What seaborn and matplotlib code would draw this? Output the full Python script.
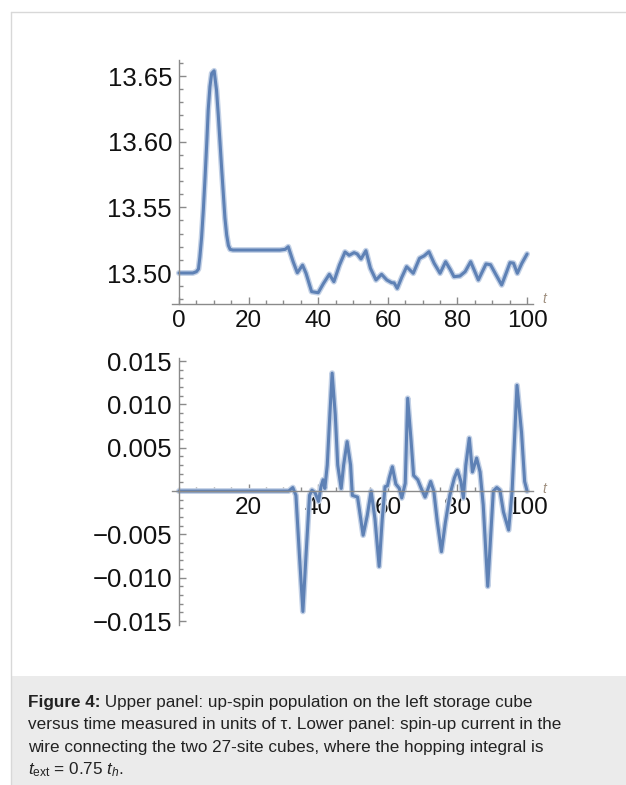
import numpy as np
import pandas as pd
import seaborn as sns
import matplotlib.pyplot as plt
import matplotlib.patheffects as pe
from matplotlib.ticker import MultipleLocator, FixedLocator
from matplotlib.patches import Rectangle
from matplotlib.lines import Line2D

# upper panel: up-spin population on the left cube
t_pop = [0, 2, 4, 5, 5.6, 6.0, 6.5, 7.0, 7.5, 8.0, 8.4, 8.9, 9.4, 10.1, 10.8, 11.3,
         11.8, 12.3, 12.8, 13.2, 13.7, 14.2, 14.7, 15.5, 20, 25, 29.0, 30.5, 31.4,
         32.8, 34.0, 35.5, 36.5, 38.1, 40.0, 41.5, 43.2, 44.5, 46.1, 47.7, 48.9, 50.3,
         51.2, 52.3, 53.7, 55.0, 56.6, 58.2, 59.7, 61.1, 61.8, 62.7, 64.0, 65.4, 67.3,
         69.1, 70.4, 71.8, 73.3, 75.0, 76.6, 77.9, 79.0, 80.7, 82.2, 83.8, 86.0, 88.2,
         89.5, 91.1, 92.7, 94.0, 95.1, 96.1, 97.2, 98.5, 100]
n_up = [13.500, 13.500, 13.500, 13.501, 13.503, 13.512, 13.527, 13.548, 13.573, 13.600,
        13.624, 13.642, 13.652, 13.654, 13.639, 13.620, 13.599, 13.578, 13.558, 13.542,
        13.529, 13.521, 13.518, 13.5175, 13.5175, 13.5175, 13.5175, 13.518, 13.520,
        13.5086, 13.5002, 13.506, 13.4998, 13.4858, 13.485, 13.492, 13.499, 13.4934,
        13.506, 13.516, 13.5135, 13.5155, 13.5145, 13.5107, 13.517, 13.5036, 13.4947,
        13.499, 13.4947, 13.4926, 13.4925, 13.4883, 13.4967, 13.5048, 13.4998, 13.5112,
        13.513, 13.5162, 13.5074, 13.4998, 13.5086, 13.5028, 13.4972, 13.4977, 13.501,
        13.5086, 13.4947, 13.5069, 13.5063, 13.4985, 13.4909, 13.500, 13.5079, 13.5075,
        13.4998, 13.5074, 13.5145]

# lower panel: spin-up current in the wire
t_cur = [0, 10, 20, 29.0, 31.5, 32.7, 33.6, 34.6, 35.6, 36.5, 37.5, 38.2, 39.1, 40.1,
         40.8, 41.4, 41.9, 42.6, 43.3, 44.0, 44.9, 45.6, 46.6, 47.3, 48.3, 49.3, 49.8,
         51.3, 52.9, 54.1, 55.2, 56.3, 57.5, 58.4, 59.2, 59.9, 60.4, 61.3, 62.3, 63.3,
         64.0, 65.0, 65.7, 66.7, 67.4, 68.6, 69.6, 70.7, 72.3, 73.2, 74.2, 75.4, 76.5,
         77.8, 79.1, 80.0, 81.0, 81.7, 82.4, 83.4, 84.3, 85.5, 86.5, 87.4, 88.7, 89.5,
         90.3, 91.3, 92.2, 93.2, 94.7, 95.7, 97.1, 98.4, 99.3, 100]
j_up = [0, 0, 0, 0, 0.0, 0.0004, -0.0005, -0.0074, -0.0139, -0.0074, -0.0005, 0.0001,
        -0.0002, -0.0012, 0.0005, 0.0013, 0.0003, 0.0030, 0.0085, 0.0136, 0.0088, 0.0030,
        0.0003, 0.0030, 0.0057, 0.0030, -0.0005, -0.0007, -0.0051, -0.0028, 0.0, -0.0032,
        -0.0087, -0.0032, 0.0005, 0.0006, 0.0015, 0.0028, 0.0008, 0.0003, -0.0008, 0.0009,
        0.0107, 0.0057, 0.0018, 0.0013, 0.0003, -0.0007, 0.0011, 0.0, -0.0035, -0.0070,
        -0.0037, -0.0005, 0.0015, 0.0024, 0.0011, -0.0008, 0.0030, 0.0061, 0.0022, 0.0038,
        0.0022, -0.0016, -0.0110, -0.0055, 0.0, 0.0004, 0.0001, -0.0024, -0.0045, 0.0,
        0.0122, 0.0068, 0.0011, 0.0]

pop = pd.DataFrame({"t": t_pop, "n": n_up})
cur = pd.DataFrame({"t": t_cur, "j": j_up})

sns.set_style("ticks")
plt.rcParams["font.family"] = ["Liberation Sans", "DejaVu Sans"]
plt.rcParams["mathtext.fontset"] = "custom"
plt.rcParams["mathtext.rm"] = "Liberation Sans"
plt.rcParams["mathtext.it"] = "Liberation Sans:italic"
plt.rcParams["axes.unicode_minus"] = True
plt.rcParams["lines.solid_joinstyle"] = "round"

line_c = "#5e81b5"
axis_c = "#8a8a8a"
halo = [pe.Stroke(linewidth=4.2, foreground="#c3d1e6"), pe.Normal()]

fig = plt.figure(figsize=(6.26, 7.85), dpi=100)
W, H = 626, 785

# frame and caption box
fig.add_artist(Line2D([11 / W, 11 / W], [0, 1 - 12 / H], color="#d8d8d8", lw=1))
fig.add_artist(Line2D([11 / W, 1], [1 - 12 / H, 1 - 12 / H], color="#d8d8d8", lw=1))
fig.add_artist(Rectangle((11 / W, 0), 1 - 11 / W, 109 / H, facecolor="#ebebeb",
                         edgecolor="none", transform=fig.transFigure))


def style_axes(ax):
    for side in ("top", "right"):
        ax.spines[side].set_visible(False)
    for side in ("left", "bottom"):
        ax.spines[side].set_color(axis_c)
        ax.spines[side].set_linewidth(1.0)
    ax.spines["left"].set_position(("data", 0))
    ax.set_xlim(-2, 101.7)
    ax.xaxis.set_minor_locator(MultipleLocator(5))
    ax.tick_params(which="both", direction="in", color=axis_c, width=1.0)
    ax.tick_params(which="major", length=5)
    ax.tick_params(which="minor", length=3)
    ax.set_xlabel("")
    ax.set_ylabel("")
    ax.patch.set_alpha(0)


# upper panel
ax1 = fig.add_axes([172 / W, 1 - 304 / H, 361 / W, 244 / H])
sns.lineplot(data=pop, x="t", y="n", ax=ax1, color=line_c, lw=2.2, path_effects=halo)
style_axes(ax1)
ax1.set_ylim(13.4764, 13.6622)
ax1.yaxis.set_major_locator(FixedLocator([13.50, 13.55, 13.60, 13.65]))
ax1.yaxis.set_minor_locator(MultipleLocator(0.01))
ax1.set_yticklabels(["13.50", "13.55", "13.60", "13.65"])
ax1.xaxis.set_major_locator(FixedLocator([0, 20, 40, 60, 80, 100]))
ax1.set_xticklabels(["0", "20", "40", "60", "80", "100"])
ax1.tick_params(axis="y", labelsize=18.5, pad=5, labelcolor="#111111")
ax1.tick_params(axis="x", labelsize=17.5, pad=4, labelcolor="#111111")
ax1.text(1.03, 0.02, "t", transform=ax1.transAxes, fontsize=10, style="italic",
         color="#a09080", ha="center", va="center")

# lower panel
ax2 = fig.add_axes([172 / W, 1 - 625 / H, 361 / W, 267 / H])
sns.lineplot(data=cur, x="t", y="j", ax=ax2, color=line_c, lw=2.2, path_effects=halo)
style_axes(ax2)
ax2.spines["bottom"].set_position(("data", 0))
ax2.set_ylim(-0.01546, 0.01535)
ax2.yaxis.set_major_locator(FixedLocator([-0.015, -0.010, -0.005, 0.005, 0.010, 0.015]))
ax2.yaxis.set_minor_locator(MultipleLocator(0.001))
ax2.set_yticklabels(["\u22120.015", "\u22120.010", "\u22120.005", "0.005", "0.010", "0.015"])
ax2.xaxis.set_major_locator(FixedLocator([20, 40, 60, 80, 100]))
ax2.set_xticklabels(["20", "40", "60", "80", "100"])
ax2.tick_params(axis="y", labelsize=18.5, pad=5, labelcolor="#111111")
ax2.tick_params(axis="x", labelsize=17.5, pad=4, labelcolor="#111111")
ax2.text(1.03, 0.51, "t", transform=ax2.transAxes, fontsize=10, style="italic",
         color="#a09080", ha="center", va="center")

# caption
cap_size = 12.3
x0 = 28 / W
bold = fig.text(x0, 1 - 702 / H, "Figure 4:", fontsize=cap_size, fontweight="bold",
                va="center", color="#222222")
fig.canvas.draw()
bb = bold.get_window_extent(fig.canvas.get_renderer())
fig.text(bb.x1 / fig.bbox.width, 1 - 702 / H,
         " Upper panel: up-spin population on the left storage cube",
         fontsize=cap_size, va="center", color="#222222")
rest = [
    "versus time measured in units of \u03c4. Lower panel: spin-up current in the",
    "wire connecting the two 27-site cubes, where the hopping integral is",
    "$t_{\\mathrm{ext}}$ = 0.75 $t_h$.",
]
for i, line in enumerate(rest):
    fig.text(x0, 1 - (724.5 + 22.7 * i) / H, line, fontsize=cap_size, va="center",
             color="#222222")

plt.savefig("out.png", dpi=100)
